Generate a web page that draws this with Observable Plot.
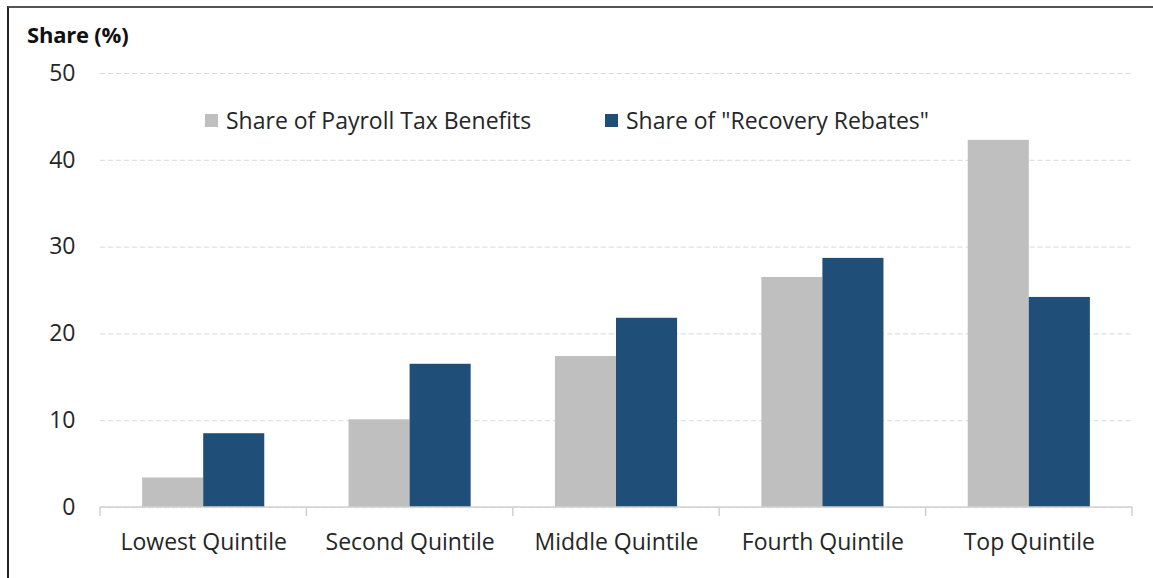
<!DOCTYPE html>
<html>
<head>
<meta charset="utf-8">
<script src="https://cdn.jsdelivr.net/npm/d3@7"></script>
<script src="https://cdn.jsdelivr.net/npm/@observablehq/plot@0.6"></script>
<style>
  html, body { margin: 0; padding: 0; background: #fff; }
  #wrap { position: relative; width: 1153px; height: 578px; overflow: hidden; font-family: "Open Sans", Lato, sans-serif; color: #262626; font-variant-ligatures: none; }
  #wrap svg { position: absolute; left: 0; top: 0; font-variant-ligatures: none; }
  #border { position: absolute; left: 7px; top: 6px; right: -10px; bottom: -10px; border-left: 2px solid #222; border-top: 2px solid #555; pointer-events: none; }
  #title { position: absolute; left: 27px; top: 20px; font-size: 22px; font-weight: bold; color: #111; line-height: 28px; letter-spacing: -0.2px; }
  .leg { position: absolute; top: 106px; font-size: 23px; line-height: 28px; display: flex; align-items: center; white-space: nowrap; }
  .leg .sw { width: 13px; height: 13px; margin-right: 8px; }
</style>
</head>
<body>
<div id="wrap"></div>
<script>
const quintiles = ["Lowest Quintile", "Second Quintile", "Middle Quintile", "Fourth Quintile", "Top Quintile"];
const seriesNames = ["Share of Payroll Tax Benefits", "Share of \"Recovery Rebates\""];
const payrollShare = [3.4, 10.1, 17.4, 26.5, 42.3];
const rebateShare = [8.5, 16.5, 21.8, 28.7, 24.2];
const yTicks = [0, 10, 20, 30, 40, 50];
const seriesColors = ["#bfbfbf", "#1f4e79"];
const titleText = "Share (%)";

const data = quintiles.flatMap((q, i) => [
  {q, s: seriesNames[0], v: payrollShare[i]},
  {q, s: seriesNames[1], v: rebateShare[i]}
]);

const fontFamily = "'Open Sans', Lato, sans-serif";

const axisLine = (index, scales, values, dims) => {
  const {fx, y} = scales;
  const x0 = dims.marginLeft, x1 = dims.width - dims.marginRight;
  let bw = fx && fx.bandwidth;
  if (typeof bw === "function") bw = bw();
  const edges = quintiles.map((q, i) => (fx ? fx(q) : x0 + i * (x1 - x0) / quintiles.length));
  edges.push(fx && bw ? fx(quintiles[quintiles.length - 1]) + bw : x1);
  const y0 = y(0);
  const g = d3.create("svg:g").attr("stroke", "#d0d0d0").attr("stroke-width", 1.5).attr("fill", "none");
  g.append("line").attr("x1", x0).attr("x2", x1).attr("y1", y0).attr("y2", y0);
  for (const e of edges) g.append("line").attr("x1", e).attr("x2", e).attr("y1", y0).attr("y2", y0 + 9);
  return g.node();
};

const plot = Plot.plot({
  width: 1153,
  height: 578,
  marginLeft: 100,
  marginRight: 21,
  marginTop: 73,
  marginBottom: 71,
  style: {fontFamily, fontSize: "23px", color: "#262626", background: "transparent", overflow: "visible"},
  fx: {domain: quintiles, padding: 0, round: false, label: null},
  x: {domain: seriesNames, paddingInner: 0, paddingOuter: 0.69, round: false, axis: null},
  y: {domain: [0, 50], axis: null},
  color: {domain: seriesNames, range: seriesColors},
  marks: [
    Plot.gridY(yTicks, {stroke: "#d9d9d9", strokeOpacity: 1, strokeDasharray: "5,3"}),
    Plot.axisY(yTicks, {tickSize: 0, tickPadding: 25, fontSize: 23, label: null, fill: "#262626"}),
    Plot.axisFx({anchor: "bottom", tickSize: 0, tickPadding: 26, fontSize: 23, label: null, fill: "#262626"}),
    Plot.barY(data, {fx: "q", x: "s", y: "v", fill: "s"}),
    Plot.frame({facet: "super", render: axisLine})
  ]
});

const wrap = document.getElementById("wrap");
wrap.appendChild(plot);

const title = document.createElement("div");
title.id = "title";
title.textContent = titleText;
wrap.appendChild(title);

const legendLeft = [205, 605];
seriesNames.forEach((name, i) => {
  const item = document.createElement("div");
  item.className = "leg";
  item.style.left = legendLeft[i] + "px";
  const sw = document.createElement("span");
  sw.className = "sw";
  sw.style.background = seriesColors[i];
  const t = document.createElement("span");
  t.textContent = name;
  item.appendChild(sw);
  item.appendChild(t);
  wrap.appendChild(item);
});

const border = document.createElement("div");
border.id = "border";
wrap.appendChild(border);
</script>
</body>
</html>
